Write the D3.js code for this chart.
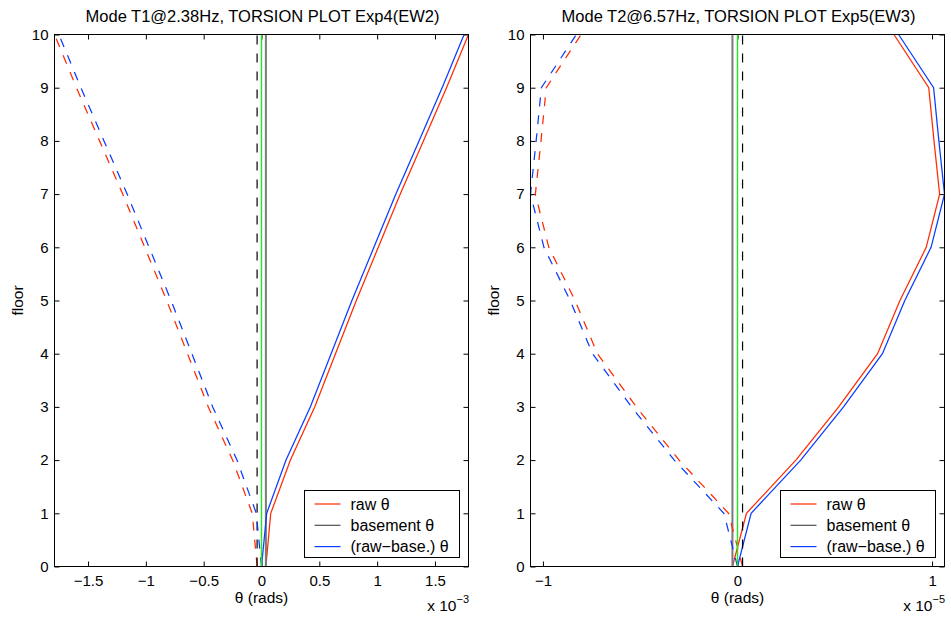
<!DOCTYPE html>
<html>
<head>
<meta charset="utf-8">
<script src="https://cdn.jsdelivr.net/npm/d3@7"></script>
<style>
  html, body { margin: 0; padding: 0; background: #fff; }
  svg { display: block; font-family: "Liberation Sans", Arial, Helvetica, sans-serif; }
  .tick text { font-size: 15px; fill: #000; }
</style>
</head>
<body>
<svg id="chart" width="951" height="619"></svg>
<script>
// Floor levels (0 = ground, 10 = roof)
const floors = [0, 1, 2, 3, 4, 5, 6, 7, 8, 9, 10];

// Mode T1 @ 2.38 Hz (Exp4, EW2) — rotations in units of 1e-3 rad
const t1Raw  = [0.038, 0.080, 0.250, 0.460, 0.640, 0.820, 1.010, 1.200, 1.400, 1.600, 1.790];
const t1Rel  = [0.000, 0.045, 0.212, 0.422, 0.602, 0.782, 0.972, 1.162, 1.362, 1.562, 1.752];
const t1Base = 0.038;
const t1Ticks = [-1.5, -1, -0.5, 0, 0.5, 1, 1.5];

// Mode T2 @ 6.57 Hz (Exp5, EW3) — rotations in units of 1e-5 rad
const t2Raw  = [-0.026, 0.046, 0.300, 0.520, 0.720, 0.835, 0.970, 1.039, 1.010, 0.983, 0.804];
const t2Rel  = [0.000, 0.070, 0.325, 0.545, 0.745, 0.860, 0.995, 1.064, 1.035, 1.008, 0.828];
const t2Base = -0.026;
const t2Ticks = [-1, 0, 1];

const floorTicks = [0, 1, 2, 3, 4, 5, 6, 7, 8, 9, 10];
const legendLabels = ["raw \u03b8", "basement \u03b8", "(raw\u2212base.) \u03b8"];

const COLORS = { raw: "#ff2a00", rel: "#0a3cff", base: "#7a7a7a", legendBase: "#505050", zero: "#1ee81e", neg: "#000000" };
const DASH = "9,9";

const svg = d3.select("#chart");

function fmt(v) {
  return d3.format("")(v).replace("-", "\u2212");
}

function panel(opts) {
  const { left, right, top, bottom, limit, ticks, raw, rel, base, title, exponent } = opts;
  const x = d3.scaleLinear().domain([-limit, limit]).range([left, right]);
  const y = d3.scaleLinear().domain([0, 10]).range([bottom, top]);
  const g = svg.append("g");

  // ticks: all pointing into the plot box
  g.append("g").attr("transform", `translate(0,${bottom})`)
    .call(d3.axisBottom(x).tickValues(ticks).tickSize(-5).tickSizeOuter(0).tickPadding(9).tickFormat(fmt))
    .call(a => a.select(".domain").remove());
  g.append("g").attr("transform", `translate(0,${top})`)
    .call(d3.axisTop(x).tickValues(ticks).tickSize(-5).tickSizeOuter(0).tickFormat(""))
    .call(a => a.select(".domain").remove());
  g.append("g").attr("transform", `translate(${left},0)`)
    .call(d3.axisLeft(y).tickValues(floorTicks).tickSize(-5).tickSizeOuter(0).tickPadding(6).tickFormat(d3.format("d")))
    .call(a => a.select(".domain").remove());
  g.append("g").attr("transform", `translate(${right},0)`)
    .call(d3.axisRight(y).tickValues(floorTicks).tickSize(-5).tickSizeOuter(0).tickFormat(""))
    .call(a => a.select(".domain").remove());
  g.selectAll(".tick line").attr("stroke", "#000");

  const plot = g.append("g");
  const vline = (v, color, width, dash) => plot.append("line")
    .attr("x1", x(v)).attr("x2", x(v)).attr("y1", y(0)).attr("y2", y(10))
    .attr("stroke", color).attr("stroke-width", width).attr("stroke-dasharray", dash || null);

  const line = (sign) => d3.line().x(d => x(sign * d)).y((d, i) => y(floors[i]));
  const path = (data, sign, color, dash) => plot.append("path")
    .datum(data).attr("d", line(sign)).attr("fill", "none")
    .attr("stroke", color).attr("stroke-width", 1.25).attr("stroke-dasharray", dash || null);

  path(raw, 1, COLORS.raw);
  vline(base, COLORS.base, 2);
  path(rel, 1, COLORS.rel);
  path(raw, -1, COLORS.raw, DASH);
  vline(-base, COLORS.neg, 1.2, DASH);
  path(rel, -1, COLORS.rel, DASH);
  vline(0, COLORS.zero, 1.4);

  // plot box
  g.append("rect").attr("x", left).attr("y", top)
    .attr("width", right - left).attr("height", bottom - top)
    .attr("fill", "none").attr("stroke", "#000").attr("stroke-width", 1);

  // titles and labels
  const cx = (left + right) / 2;
  g.append("text").attr("x", cx + 1).attr("y", 22).attr("text-anchor", "middle")
    .attr("font-size", 16.5).text(title);
  g.append("text").attr("x", x(0)).attr("y", 603).attr("text-anchor", "middle")
    .attr("font-size", 15.5).text("\u03b8 (rads)");
  g.append("text").attr("transform", `translate(${left - 32},${(top + bottom) / 2}) rotate(-90)`)
    .attr("text-anchor", "middle").attr("font-size", 15.5).text("floor");
  const ex = g.append("text").attr("x", right + 0.5).attr("y", 611).attr("text-anchor", "end").attr("font-size", 15.5);
  ex.append("tspan").text("x 10");
  ex.append("tspan").attr("dy", -8).attr("font-size", 11).text("\u2212" + exponent);

  // legend
  const lg = g.append("g");
  const lx = right - 164, ly = bottom - 76, lw = 155, lh = 67;
  lg.append("rect").attr("x", lx).attr("y", ly).attr("width", lw).attr("height", lh)
    .attr("fill", "#fff").attr("stroke", "#000").attr("stroke-width", 1);
  const colors = [COLORS.raw, COLORS.legendBase, COLORS.rel];
  legendLabels.forEach((t, i) => {
    const yy = ly + 13.5 + i * 21.3;
    lg.append("line").attr("x1", lx + 10).attr("x2", lx + 36).attr("y1", yy).attr("y2", yy)
      .attr("stroke", colors[i]).attr("stroke-width", 1.2);
    lg.append("text").attr("x", lx + 46).attr("y", yy + 5.5).attr("font-size", 16).text(t);
  });
}

panel({ left: 54.5, right: 468.5, top: 34.5, bottom: 566.5, limit: 1.79, ticks: t1Ticks,
        raw: t1Raw, rel: t1Rel, base: t1Base, exponent: "3",
        title: "Mode T1@2.38Hz, TORSION PLOT Exp4(EW2)" });
panel({ left: 530.5, right: 944.5, top: 34.5, bottom: 566.5, limit: 1.064, ticks: t2Ticks,
        raw: t2Raw, rel: t2Rel, base: t2Base, exponent: "5",
        title: "Mode T2@6.57Hz, TORSION PLOT Exp5(EW3)" });
</script>
</body>
</html>
